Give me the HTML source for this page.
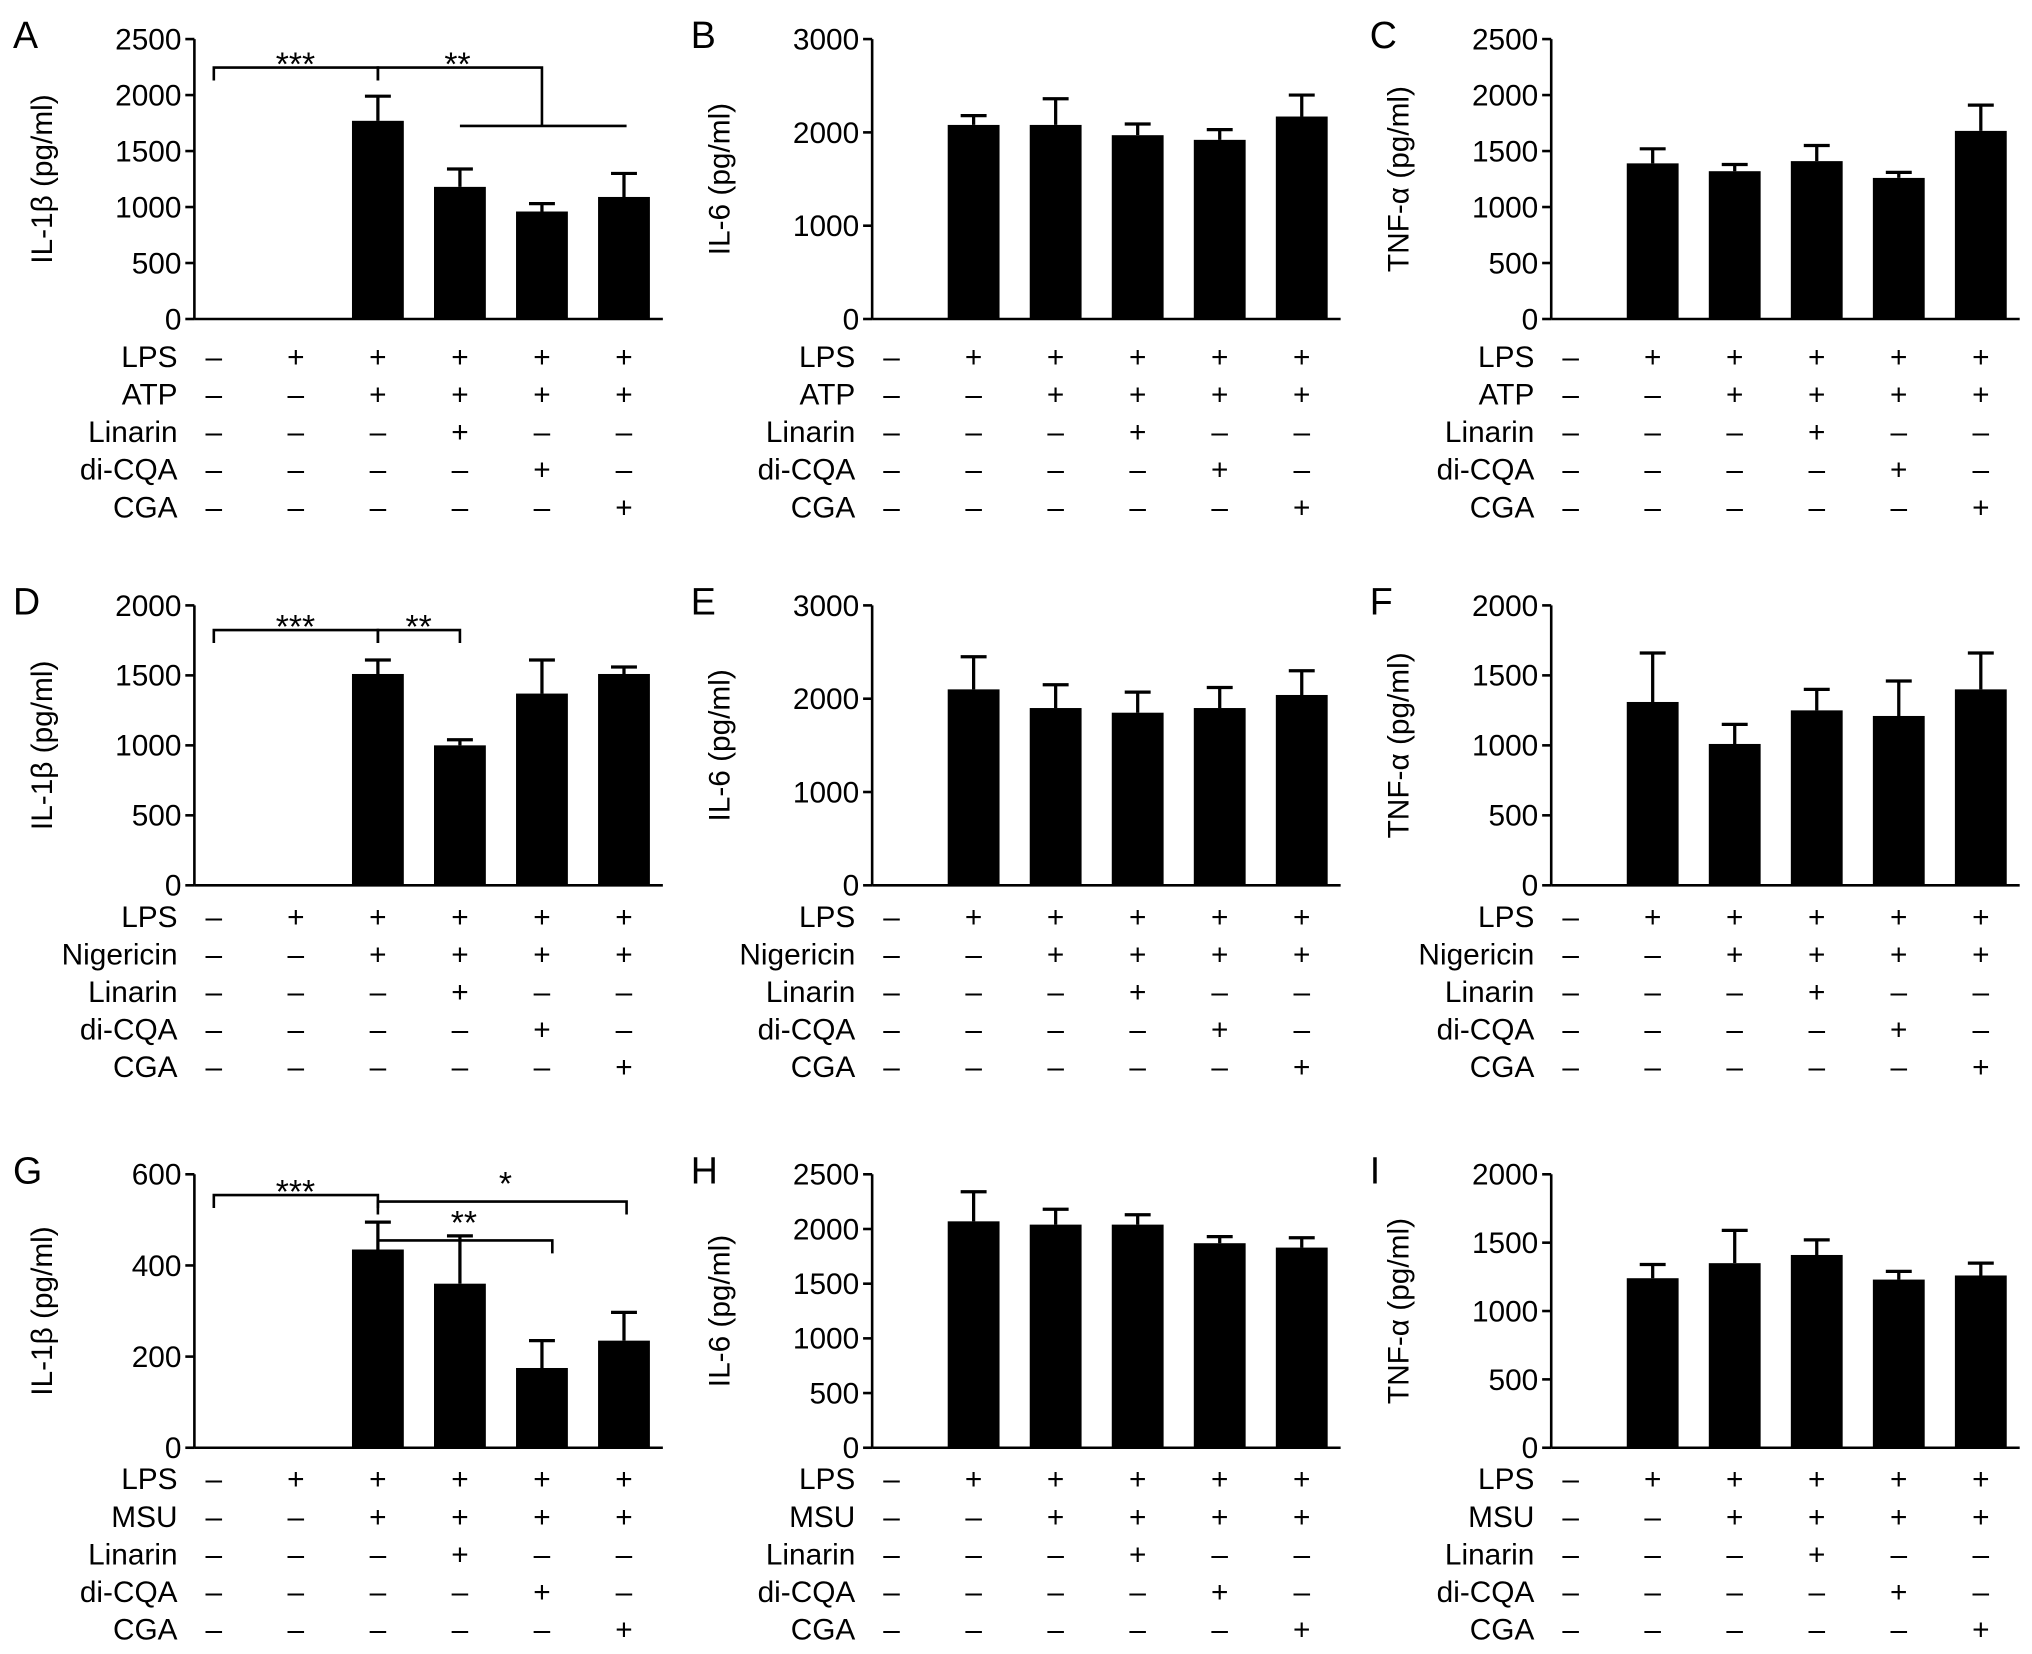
<!DOCTYPE html>
<html><head><meta charset="utf-8">
<style>
html,body{margin:0;padding:0;background:#fff;}
svg{display:block;font-family:"Liberation Sans",sans-serif;}
</style></head>
<body>
<svg id="fig" width="2032" height="1654" viewBox="0 0 1568 1276" xmlns="http://www.w3.org/2000/svg"></svg>
<script>
// Data
const panelLetters = ["A","B","C","D","E","F","G","H","I"];
const yTitles = ["IL-1β (pg/ml)","IL-6 (pg/ml)","TNF-α (pg/ml)","IL-1β (pg/ml)","IL-6 (pg/ml)","TNF-α (pg/ml)","IL-1β (pg/ml)","IL-6 (pg/ml)","TNF-α (pg/ml)"];
const yMax = [2500,3000,2500,2000,3000,2000,600,2500,2000];
const yStep = [500,1000,500,500,1000,500,200,500,500];
const valsA = [0,0,1770,1180,960,1090];
const errA  = [0,0,220,160,70,210];
const valsB = [0,2080,2080,1970,1920,2170];
const errB  = [0,100,280,120,110,230];
const valsC = [0,1390,1320,1410,1260,1680];
const errC  = [0,130,60,140,50,230];
const valsD = [0,0,1510,1000,1370,1510];
const errD  = [0,0,100,40,240,50];
const valsE = [0,2100,1900,1850,1900,2040];
const errE  = [0,350,250,220,220,260];
const valsF = [0,1310,1010,1250,1210,1400];
const errF  = [0,350,140,150,250,260];
const valsG = [0,0,435,360,175,235];
const errG  = [0,0,60,105,60,62];
const valsH = [0,2070,2040,2040,1870,1830];
const errH  = [0,270,140,90,60,90];
const valsI = [0,1240,1350,1410,1230,1260];
const errI  = [0,100,240,110,60,90];
const allVals = [valsA,valsB,valsC,valsD,valsE,valsF,valsG,valsH,valsI];
const allErr = [errA,errB,errC,errD,errE,errF,errG,errH,errI];
const stimuli = ["ATP","Nigericin","MSU"];
const rowNames = ["LPS","STIM","Linarin","di-CQA","CGA"];
const signs = [
  ["–","+","+","+","+","+"],
  ["–","–","+","+","+","+"],
  ["–","–","–","+","–","–"],
  ["–","–","–","–","+","–"],
  ["–","–","–","–","–","+"]
];

const NS="http://www.w3.org/2000/svg";
const svg=document.getElementById('fig');
function mk(tag,attrs,parent,text){
  const e=document.createElementNS(NS,tag);
  for(const k in attrs)e.setAttribute(k,attrs[k]);
  if(text!==undefined)e.textContent=text;
  (parent||svg).appendChild(e);return e;
}
const colX=[150,673,1197];
const rowY0=[246,683,1117];
const rowTop=[30,467,906];
const rowTableY=[275,707,1141];
const spacing=63.3;

for(let p=0;p<9;p++){
  const c=p%3,r=Math.floor(p/3);
  const ax=colX[c], y0=rowY0[r], yt=rowTop[r];
  const g=mk('g',{});
  
  
  const yS=v=>y0-(v/yMax[p])*(y0-yt);
  const xS=i=>ax+15+i*spacing;
  const lt=mk('text',{x:ax-140,y:yt+7,'font-size':29},g,panelLetters[p]);
  
  
  const tx=ax-110, ty=(y0+yt)/2;
  const yt2=mk('text',{x:tx,y:ty,'font-size':23,'text-anchor':'middle',transform:`rotate(-90 ${tx} ${ty})`},g,yTitles[p]);
  
  
  const yl=mk('line',{x1:ax,y1:yt,x2:ax,y2:y0,stroke:'#000','stroke-width':2},g);
  
  
  const xl=mk('line',{x1:ax,y1:y0,x2:xS(5)+30,y2:y0,stroke:'#000','stroke-width':2},g);
  
  
  for(let v=0;v<=yMax[p];v+=yStep[p]){
    mk('line',{x1:ax-7,y1:yS(v),x2:ax,y2:yS(v),stroke:'#000','stroke-width':2},g);
    const t=mk('text',{x:ax-10,y:yS(v)+8,'font-size':23,'text-anchor':'end'},g,String(v));
    
    
  }
  const vals=allVals[p],errs=allErr[p];
  for(let i=0;i<vals.length;i++){
    if(vals[i]<=0)continue;
    const x=xS(i),top=yS(vals[i]),et=yS(vals[i]+errs[i]);
    const b=mk('rect',{x:x-20,y:top,width:40,height:y0-top,fill:'#000'},g);
    
    
    const e=mk('path',{d:`M${x},${top} V${et} M${x-10},${et} H${x+10}`,stroke:'#000','stroke-width':2.5,fill:'none'},g);
    
    
  }
  for(let rr=0;rr<5;rr++){
    const y=rowTableY[r]+rr*29;
    const name=rr===1?stimuli[r]:rowNames[rr];
    const lab=mk('text',{x:ax-13,y:y+8,'font-size':23,'text-anchor':'end'},g,name);
    
    
    for(let i=0;i<6;i++){
      const s=mk('text',{x:xS(i),y:y+8,'font-size':23,'text-anchor':'middle'},g,signs[rr][i]);
      
      
    }
  }
}
function br(d,lx,ly,label){
  const p=mk('path',{d:d,stroke:'#000','stroke-width':2,fill:'none'});
  
  
  const t=mk('text',{x:lx,y:ly,'font-size':26,'text-anchor':'middle'},svg,label);
  
  
}
const X=i=>150+15+i*63.3;
br(`M${X(0)},62 V52 H${X(2)} V62`,228,58,"***");
br(`M${X(2)},62 V52 H${X(4)} V97 M${X(3)},97 H${X(5)+2}`,353,58,"**");
br(`M${X(0)},496 V486 H${X(2)} V496`,228,492,"***");
br(`M${X(2)},496 V486 H${X(3)} V496`,323,492,"**");
br(`M${X(0)},932 V922 H${X(2)} V932`,228,928,"***");
br(`M${X(2)},967 V957 H${X(4)+8} V967`,358,952,"**");
br(`M${X(2)},937 V927 H${X(5)+2} V937`,390,922,"*");
</script>
</body></html>
